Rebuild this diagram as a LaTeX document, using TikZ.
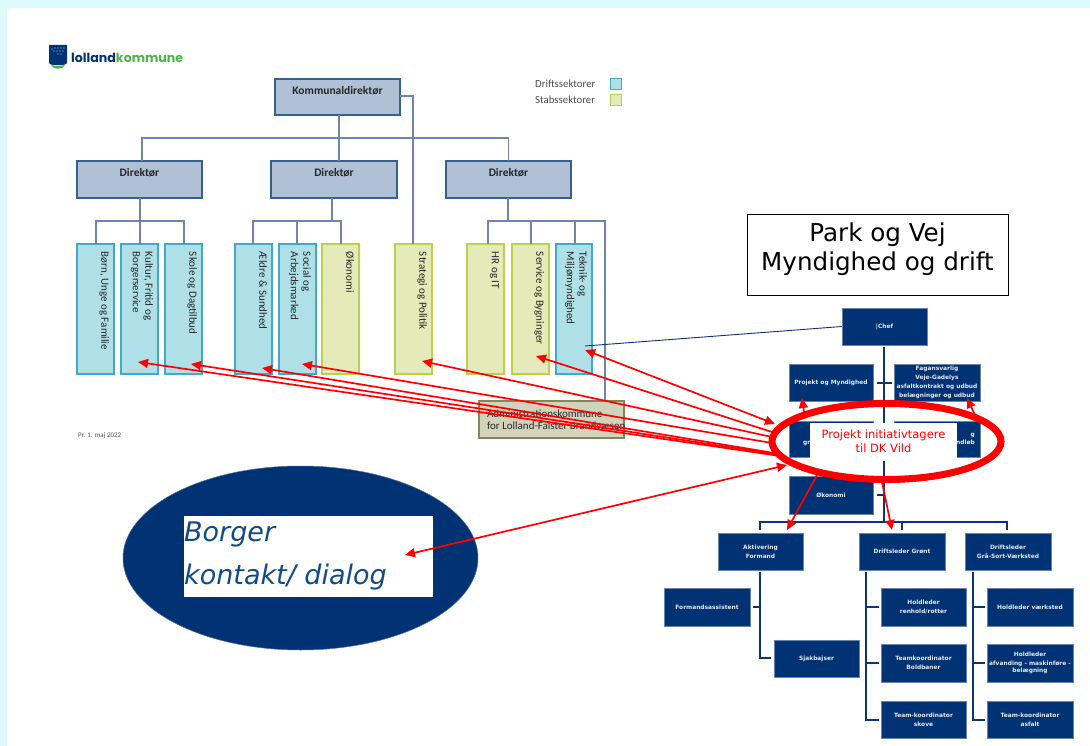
\documentclass[tikz,border=0pt]{standalone}
\usepackage{fontspec}
\setmainfont{Carlito}
\newfontfamily\dvf{DejaVu Sans}
\newfontfamily\pop{Poppins}
\usetikzlibrary{arrows.meta,shapes.geometric}
\definecolor{pagebg}{HTML}{DFFAFA}
\definecolor{navy}{HTML}{003274}
\definecolor{navyl}{HTML}{0F3473}
\definecolor{ltext}{HTML}{E4E9F2}
\definecolor{greyblue}{HTML}{B0C1D6}
\definecolor{greyblueb}{HTML}{36608F}
\definecolor{conn}{HTML}{6F86AA}
\definecolor{sblue}{HTML}{AFE0E8}
\definecolor{sblueb}{HTML}{43A9C8}
\definecolor{sgreen}{HTML}{E4EBB8}
\definecolor{sgreenb}{HTML}{B8D24E}
\definecolor{adminf}{HTML}{D1D3BA}
\definecolor{adminb}{HTML}{85855A}
\definecolor{logog}{HTML}{4FB44A}
\definecolor{borgertxt}{HTML}{124A86}
\tikzset{
  x=1pt,y=-1pt,
  base/.style={inner sep=0pt,outer sep=0pt,line width=1.5pt,text=black!85},
  greybox/.style={base,draw=greyblueb,fill=greyblue,font=\bfseries\fontsize{11.5}{13}\selectfont},
  bluebox/.style={base,draw=sblueb,fill=sblue,rotate=-90},
  greenbox/.style={base,draw=sgreenb,fill=sgreen,rotate=-90},
  navybox/.style={inner sep=0pt,outer sep=0pt,fill=navy,draw=navy!60!white,line width=.6pt,text=ltext,align=center,
     font=\dvf\bfseries\fontsize{5.9}{9.3}\selectfont},
  lconn/.style={draw=conn,line width=1.1pt},
  rconn/.style={draw=navyl,line width=2.4pt},
  redarrow/.style={draw=red,line width=1.7pt,-{Triangle[length=10pt,width=9pt]}},
  reddouble/.style={draw=red,line width=1.7pt,{Triangle[length=10pt,width=9pt]}-{Triangle[length=10pt,width=9pt]}},
}
% name, style, x0, y0, x1, y1, text
\newcommand{\gbox}[7]{\node[#2,minimum width={(#5-#3)*1pt},minimum height={(#6-#4)*1pt}] (#1) at ({(#3+#5)/2},{(#4+#6)/2}) {\parbox[t][\dimexpr#6pt-#4pt\relax][t]{\dimexpr#5pt-#3pt\relax}{\centering\vspace{7pt}#7}};}
\newcommand{\nbox}[7]{\node[#2,minimum width={(#5-#3)*1pt},minimum height={(#6-#4)*1pt}] (#1) at ({(#3+#5)/2},{(#4+#6)/2}) {#7};}
% sector box: text reads downward, top-aligned in rotated frame
\newcommand{\secbox}[7]{\node[#2] (#1) at ({(#3+#5)/2},{(#4+#6)/2}) {\parbox[t][\dimexpr#5pt-#3pt\relax][t]{\dimexpr#6pt-#4pt\relax}{\fontsize{11}{12.5}\selectfont\raggedright\leftskip=8pt\rightskip=0pt plus 1fil\vspace{5pt}#7}};}
\begin{document}
\begin{tikzpicture}
\useasboundingbox (0,0) rectangle (1090,746);
\fill[pagebg] (0,0) rectangle (1090,746);
\fill[white] (7,8) rectangle (1090,746);

% logo
\fill[navy] (49,45) -- (67,45) -- (67,62) .. controls (67,65) and (64,65) .. (58,65) .. controls (52,65) and (49,65) .. (49,62) -- cycle;
\fill[logog] (51,65) .. controls (54,66) and (62,66) .. (65,65) .. controls (63,70) and (53,70) .. (51,65) -- cycle;
\foreach \px/\py in {52/49,55/48,58/48,61/48,64/48,54/51,57/51,60/51,63/51,58/54,61/54}
  \fill[white!80!navy] (\px,\py) circle (.7);
\node[anchor=west,inner sep=0pt,font=\pop\bfseries\fontsize{12.6}{14}\selectfont] (logotxt) at (71,58) {\textcolor{navy}{lolland}\textcolor{logog}{kommune}};

% legend
\node[anchor=west,inner sep=0pt,text=black!70,font=\fontsize{10.8}{12}\selectfont] (lg1) at (535,84) {Driftssektorer};
\node[anchor=west,inner sep=0pt,text=black!70,font=\fontsize{10.8}{12}\selectfont] (lg2) at (535,100) {Stabssektorer};
\node[base,draw=sblueb,fill=sblue,minimum width=11pt,minimum height=11pt] (sw1) at (616,84) {};
\node[base,draw=sgreenb,fill=sgreen,minimum width=11pt,minimum height=11pt] (sw2) at (616,100) {};

% left chart boxes
\gbox{kd}{greybox}{275}{79}{400}{115}{Kommunaldirektør}
\gbox{d1}{greybox}{77}{161}{202}{198}{Direktør}
\gbox{d2}{greybox}{271}{161}{397}{198}{Direktør}
\gbox{d3}{greybox}{446}{161}{571}{198}{Direktør}

\secbox{s1}{bluebox}{77}{244}{114}{374}{Børn, Unge og Familie}
\secbox{s2}{bluebox}{121}{244}{158}{374}{Kultur, Fritid og\\Borgerservice}
\secbox{s3}{bluebox}{165}{244}{202}{374}{Skole og Dagtilbud}
\secbox{s4}{bluebox}{235}{244}{272}{374}{Ældre \& Sundhed}
\secbox{s5}{bluebox}{279}{244}{316}{374}{Social og\\Arbejdsmarked}
\secbox{s6}{greenbox}{322}{244}{359}{374}{Økonomi}
\secbox{s7}{greenbox}{395}{244}{432}{374}{Strategi og Politik}
\secbox{s8}{greenbox}{467}{244}{504}{374}{HR og IT}
\secbox{s9}{greenbox}{512}{244}{549}{374}{Service og Bygninger}
\secbox{s10}{bluebox}{556}{244}{592}{374}{Teknik- og\\Miljømyndighed}
\node[base,draw=adminb,fill=adminf,minimum width=145pt,minimum height=37pt] (admin) at (551.5,419.5) {\parbox{129pt}{\fontsize{11}{12.5}\selectfont\mbox{Administrationskommune}\\\mbox{for Lolland-Falster Brandvæsen}}};

\node[anchor=west,inner sep=0pt,text=black!70,font=\fontsize{7}{8}\selectfont] (date) at (78,436) {Pr. 1. maj 2022};

% left chart connectors
\coordinate (railtop) at (339,138);
\coordinate (rail1) at (140,221);
\coordinate (rail2) at (332,221);
\coordinate (rail3) at (508,221);
\draw[lconn] (kd.south -| railtop) -- (railtop) -- (railtop |- d2.north);
\draw[lconn] (railtop) -- (142,138) -- (d1.north -| 142,0);
\draw[lconn] (railtop) -- (d3.north |- railtop) -- (d3.north);
\draw[lconn] (kd.east |- 0,96) -- (413,96) -- (413,244);
\draw[lconn] (d1.south -| rail1) -- (rail1) -- (rail1 |- s2.west);
\draw[lconn] (s1.west -| 96,0) -- (96,221) -- (184,221) -- (s3.west -| 184,0);
\draw[lconn] (d2.south -| rail2) -- (rail2);
\draw[lconn] (s4.west -| 253,0) -- (253,221) -- (341,221) -- (s6.west -| 341,0);
\draw[lconn] (s5.west -| 297,0) -- (297,221);
\draw[lconn] (d3.south -| rail3) -- (rail3);
\draw[lconn] (s8.west -| 488,0) -- (488,221) -- (605,221) -- (admin.north -| 605,0);
\draw[lconn] (s9.west -| 531,0) -- (531,221);
\draw[lconn] (s10.west -| 575,0) -- (575,221);

% Park og Vej
\node[draw=black,line width=.7pt,fill=white,minimum width=261pt,minimum height=81pt,inner sep=0pt] (pv) at (877.5,254.5) {};
\node[inner sep=0pt,align=center,text=black,font=\dvf\fontsize{24.6}{29.5}\selectfont] (pvtext) at (877.5,249) {Park og Vej\\Myndighed og drift};

% right chart connectors
\coordinate (trunktop) at (884,347);
\coordinate (trunkbot) at (884,522);
\draw[rconn] (trunktop) -- (trunkbot);
\draw[rconn] (760,530) -- (760,522) -- (1007,522) -- (1007,530);
\draw[rconn] (902,522) -- (902,530);
\draw[rconn] (877,383) -- (892,383);
\draw[rconn] (877,495) -- (884,495);
\draw[rconn] (760,572) -- (760,658) -- (771,658);
\draw[rconn] (753,607) -- (760,607);
\draw[rconn] (866,572) -- (866,720) -- (879,720);
\draw[rconn] (866,607) -- (879,607);
\draw[rconn] (866,663) -- (879,663);
\draw[rconn] (973,572) -- (973,720) -- (985,720);
\draw[rconn] (973,607) -- (985,607);
\draw[rconn] (973,663) -- (985,663);

% right chart boxes
\nbox{chef}{navybox}{842}{308}{927}{345}{|Chef}
\nbox{pm}{navybox}{789}{364}{873}{401}{Projekt og Myndighed}
\node[navybox,font=\dvf\bfseries\fontsize{5.9}{9}\selectfont,minimum width=86pt,minimum height=37pt] (fa) at (937,382.5) {Fagansvarlig\\Veje-Gadelys\\asfaltkontrakt og udbud\\belægninger og udbud};
\nbox{rl}{navybox}{789}{421}{873}{457}{}
\nbox{rr}{navybox}{894}{421}{980}{457}{}
\nbox{ok}{navybox}{789}{476}{873}{514}{Økonomi}
\nbox{ak}{navybox}{718}{533}{803}{570}{Aktivering\\Formand}
\nbox{dg}{navybox}{859}{533}{945}{570}{Driftsleder Grønt}
\nbox{dv}{navybox}{965}{533}{1051}{570}{Driftsleder\\Grå-Sort-Værksted}
\nbox{fa2}{navybox}{664}{588}{750}{626}{Formandsassistent}
\nbox{sj}{navybox}{774}{640}{859}{677}{Sjakbajser}
\nbox{h1}{navybox}{881}{588}{966}{626}{Holdleder\\renhold/rotter}
\nbox{h2}{navybox}{881}{644}{966}{682}{Teamkoordinator\\Boldbaner}
\nbox{h3}{navybox}{881}{701}{966}{738}{Team-koordinator\\skove}
\nbox{v1}{navybox}{987}{588}{1073}{626}{Holdleder værksted}
\node[navybox,font=\dvf\bfseries\fontsize{5.9}{7.2}\selectfont,minimum width=86pt,minimum height=38pt] (v2) at (1030,663) {Holdleder\\[2pt]afvanding - maskinføre -\\belægning};
\nbox{v3}{navybox}{987}{701}{1073}{738}{Team-koordinator\\asfalt}

% fragments of hidden labels
\node[anchor=west,inner sep=0pt,text=ltext,font=\dvf\bfseries\fontsize{5.9}{7}\selectfont] (frag1) at (803,443) {gr};
\node[anchor=east,inner sep=0pt,text=ltext,align=right,font=\dvf\bfseries\fontsize{5.9}{8.5}\selectfont] (frag2) at (975,439) {g\\ndløb};

% Chef to Teknik
\draw[draw=navyl,line width=.9pt] (chef.west) -- (585,346);

% Borger ellipse
\node[ellipse,fill=navy,draw=navy!70!white,line width=.5pt,minimum width=355pt,minimum height=184pt,inner sep=0pt] (borgerell) at (300.5,558) {};
\node[fill=white,minimum width=249pt,minimum height=81pt,inner sep=0pt] (borger) at (308.5,556.5) {};
\node[anchor=west,inner sep=0pt,text=borgertxt,font=\dvf\itshape\fontsize{27}{30}\selectfont] (b1) at (184,534) {Borger};
\node[anchor=west,inner sep=0pt,text=borgertxt,font=\dvf\itshape\fontsize{27}{30}\selectfont] (b2) at (184,577) {kontakt/ dialog};

% red arrows
\coordinate (tTek) at (585,350);  \coordinate (fTek) at (775,424);
\coordinate (tSer) at (536,356);  \coordinate (fSer) at (772,432);
\coordinate (tStr) at (422,361);  \coordinate (fStr) at (772,437);
\coordinate (tSoc) at (302,364);  \coordinate (fSoc) at (772,443);
\coordinate (tAel) at (262,368);  \coordinate (fAel) at (780,454);
\coordinate (tSko) at (191,364);  \coordinate (fSko) at (780,455);
\coordinate (tKul) at (138,362);  \coordinate (fKul) at (780,456);
\coordinate (tBor) at (405,555);  \coordinate (fBor) at (787,465);
\coordinate (tAkt) at (787,530);  \coordinate (fAkt) at (817,475);
\coordinate (tDri) at (892,530);  \coordinate (fDri) at (882,482);
\coordinate (tPro) at (802,398);  \coordinate (fPro) at (804,412);
\coordinate (tFag) at (967,398);  \coordinate (fFag) at (975,415);
\draw[reddouble] (fTek) -- (tTek);
\draw[reddouble] (fBor) -- (tBor);
\draw[redarrow] (fSer) -- (tSer);
\draw[redarrow] (fStr) -- (tStr);
\draw[redarrow] (fSoc) -- (tSoc);
\draw[redarrow] (fAel) -- (tAel);
\draw[redarrow] (fSko) -- (tSko);
\draw[redarrow] (fKul) -- (tKul);
\draw[redarrow] (fAkt) -- (tAkt);
\draw[redarrow] (fDri) -- (tDri);
\draw[redarrow] (fPro) -- (tPro);
\draw[redarrow] (fFag) -- (tFag);

% initiative label and ring
\node[fill=white,minimum width=147pt,minimum height=38pt,inner sep=0pt,align=center,text=red,font=\dvf\fontsize{11.5}{14}\selectfont] (init) at (883.5,441.5) {Projekt initiativtagere\\til DK Vild};
\node[ellipse,draw=red,line width=7pt,minimum width=229pt,minimum height=76pt,inner sep=0pt] (ring) at (886.5,441.5) {};
\end{tikzpicture}
\end{document}
